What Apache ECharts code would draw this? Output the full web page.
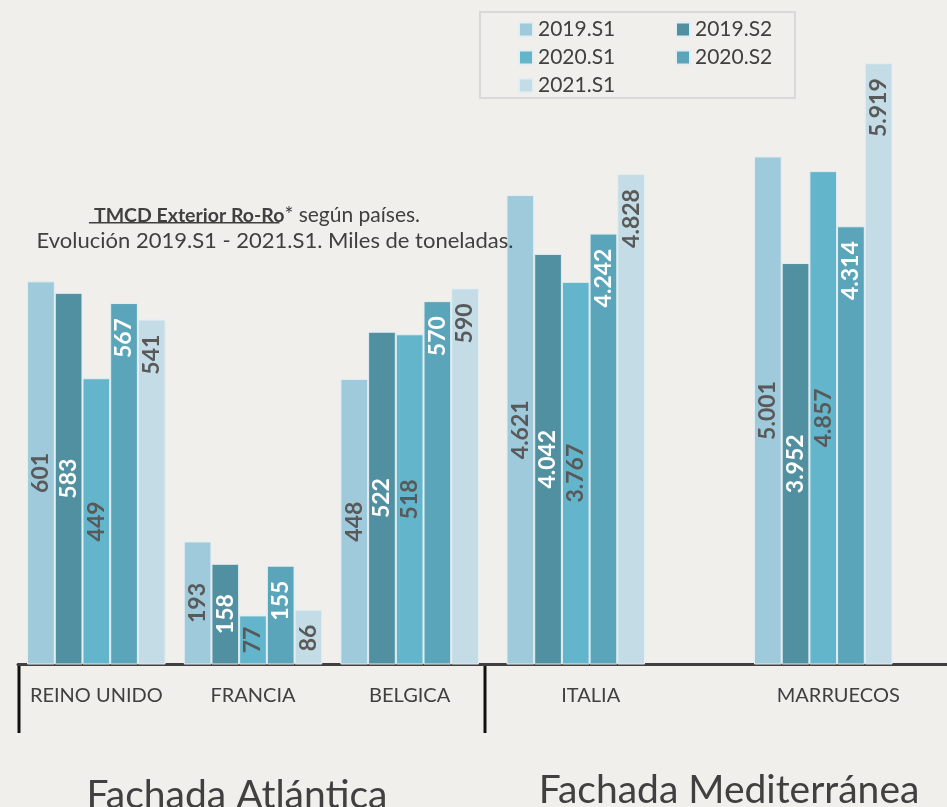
<!DOCTYPE html>
<html>
<head>
<meta charset="utf-8">
<script src="https://cdn.jsdelivr.net/npm/echarts@6/dist/echarts.min.js"></script>
<style>
  html, body { margin: 0; padding: 0; background: #f0efeb; }
  #chart { width: 947px; height: 807px; }
</style>
</head>
<body>
<div id="chart"></div>
<script>
// periods (legend) and their colours
var periods = ['2019.S1', '2019.S2', '2020.S1', '2020.S2', '2021.S1'];
var colors = ['#9fcadb', '#5190a0', '#63b5cb', '#5aa5ba', '#c4dce6'];
var labelColors = ['#595959', '#ffffff', '#595959', '#ffffff', '#595959'];
var labelPos = ['inside', 'inside', 'inside', 'insideTop', 'insideTop'];

// Fachada Atlántica (miles de toneladas)
var atlCategories = ['REINO UNIDO', 'FRANCIA', 'BELGICA'];
var atlValues = [
  [601, 193, 448],   // 2019.S1
  [583, 158, 522],   // 2019.S2
  [449, 77, 518],    // 2020.S1
  [567, 155, 570],   // 2020.S2
  [541, 86, 590]     // 2021.S1
];

// Fachada Mediterránea (miles de toneladas)
var medCategories = ['ITALIA', 'MARRUECOS'];
var medValues = [
  [4621, 5001],
  [4042, 3952],
  [3767, 4857],
  [4242, 4314],
  [4828, 5919]
];

var titleBold = 'TMCD Exterior Ro-Ro';
var titleRest = '* según países.';
var subTitle = 'Evolución 2019.S1 - 2021.S1. Miles de toneladas.';

function fmt(v) {
  return String(v).replace(/\B(?=(\d{3})+(?!\d))/g, '.');
}

function makeSeries(values, axisIndex) {
  return values.map(function (data, i) {
    var top = labelPos[i] === 'insideTop';
    return {
      name: periods[i],
      type: 'bar',
      xAxisIndex: axisIndex,
      yAxisIndex: axisIndex,
      data: data,
      barWidth: 27.7,
      barGap: '0%',
      itemStyle: { color: colors[i], borderColor: '#e3eef2', borderWidth: 1 },
      label: {
        show: true,
        position: labelPos[i],
        distance: 15,
        rotate: 90,
        align: top ? 'right' : 'center',
        verticalAlign: 'middle',
        color: labelColors[i],
        fontSize: 23,
        fontWeight: 'bold',
        formatter: function (p) { return fmt(p.value); }
      }
    };
  });
}

var catAxis = function (cats, grid, pad) {
  return {
    type: 'category',
    gridIndex: grid,
    data: cats,
    axisLine: { lineStyle: { color: '#404040', width: 3 } },
    axisTick: { show: false },
    axisLabel: {
      interval: 0, hideOverlap: false,
      color: '#404040', fontSize: 20, margin: 21, padding: [0, 0, 0, pad]
    }
  };
};

var valAxis = function (grid, max) {
  return {
    type: 'value',
    gridIndex: grid,
    min: 0,
    max: max,
    show: false,
    splitLine: { show: false }
  };
};

// width of the bold part of the first title line, for its underline
var boldSize = 19.5, restSize = 21;
var ctx = document.createElement('canvas').getContext('2d');
ctx.font = 'bold ' + boldSize + 'px Lato';
var wBold = ctx.measureText(titleBold).width;
ctx.font = restSize + 'px Lato';
var wRest = ctx.measureText(titleRest).width;
var line1Center = 252;
var line1Start = line1Center - (wBold + wRest) / 2;

var chart = echarts.init(document.getElementById('chart'));

chart.setOption({
  backgroundColor: '#f0efeb',
  animation: false,
  textStyle: { fontFamily: 'Lato' },
  title: [
    {
      text: '{b|' + titleBold + '}{n|' + titleRest + '}',
      left: line1Center, top: 200, textAlign: 'center',
      textStyle: {
        rich: {
          b: { fontSize: boldSize, fontWeight: 'bold', color: '#404040', fontFamily: 'Lato' },
          n: { fontSize: restSize, fontWeight: 'normal', color: '#404040', fontFamily: 'Lato' }
        }
      }
    },
    {
      text: subTitle,
      left: 270, top: 225, textAlign: 'center',
      textStyle: { fontSize: 22, fontWeight: 'normal', color: '#404040' }
    },
    {
      text: 'Fachada Atlántica',
      left: 232, top: 771, textAlign: 'center',
      textStyle: { fontSize: 39, fontWeight: 'normal', color: '#404040' }
    },
    {
      text: 'Fachada Mediterránea',
      left: 724, top: 766, textAlign: 'center',
      textStyle: { fontSize: 39, fontWeight: 'normal', color: '#404040' }
    }
  ],
  legend: [
    {
      data: periods.filter(function (p, i) { return i % 2 === 0; }),
      orient: 'vertical', left: 513, top: 14,
      itemWidth: 14, itemHeight: 14, itemGap: 7, icon: 'rect',
      textStyle: { fontSize: 21, color: '#404040' }
    },
    {
      data: periods.filter(function (p, i) { return i % 2 === 1; }),
      orient: 'vertical', left: 670, top: 14,
      itemWidth: 14, itemHeight: 14, itemGap: 7, icon: 'rect',
      textStyle: { fontSize: 21, color: '#404040' }
    }
  ],
  grid: [
    { left: 18, right: 459, top: 27, bottom: 142.5 },
    { left: 452, right: 0, top: 55, bottom: 142.5 }
  ],
  xAxis: [catAxis(atlCategories, 0, 0), catAxis(medCategories, 1, 30)],
  yAxis: [valAxis(0, 1000), valAxis(1, 6000)],
  series: makeSeries(atlValues, 0).concat(makeSeries(medValues, 1)),
  graphic: [
    // legend frame
    { type: 'rect', shape: { x: 480, y: 12, width: 315, height: 86 },
      style: { fill: 'none', stroke: '#d9d9d9', lineWidth: 2 }, z: 0 },
    // underline of the bold part of the first title line
    { type: 'rect', shape: { x: line1Start, y: 222, width: wBold, height: 1.5 },
      style: { fill: '#404040' } },
    // table separators below the axis
    { type: 'line', shape: { x1: 19, y1: 664, x2: 19, y2: 733 },
      style: { stroke: '#111', lineWidth: 3 } },
    { type: 'line', shape: { x1: 485, y1: 664, x2: 485, y2: 733 },
      style: { stroke: '#111', lineWidth: 3 } }
  ]
});
</script>
</body>
</html>
